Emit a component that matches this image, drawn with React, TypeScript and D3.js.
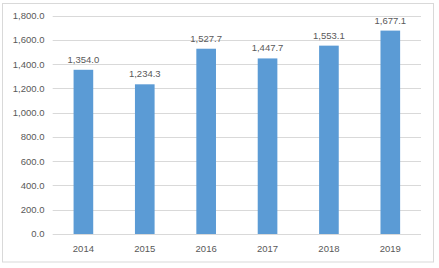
import React from "react";
import * as d3 from "d3";

const categories = ["2014", "2015", "2016", "2017", "2018", "2019"];
const values = [1354.0, 1234.3, 1527.7, 1447.7, 1553.1, 1677.1];
const yTicks = [0, 200, 400, 600, 800, 1000, 1200, 1400, 1600, 1800];

const W = 439;
const H = 268;
const plot = { left: 52.7, right: 421, top: 15.7, bottom: 234 };
const FONT = "'Liberation Sans', Arial, sans-serif";
const TEXT = "#595959";

export default function App() {
  const x = d3
    .scaleBand<string>()
    .domain(categories)
    .range([plot.left, plot.right])
    .paddingInner(0.68)
    .paddingOuter(0.34);
  const y = d3.scaleLinear().domain([0, 1800]).range([plot.bottom, plot.top]);
  const fmt = d3.format(",.1f");

  return (
    <svg
      width={W}
      height={H}
      style={{ position: "absolute", left: 0, top: 0, background: "#fff" }}
    >
      <rect x={2.5} y={3.5} width={431} height={258.5} fill="#fff" stroke="#D9D9D9" strokeWidth={1} />
      {yTicks.map((t) => (
        <g key={t}>
          <line
            x1={plot.left}
            x2={plot.right}
            y1={Math.round(y(t)) + 0.5}
            y2={Math.round(y(t)) + 0.5}
            stroke="#D9D9D9"
            strokeWidth={1}
          />
          <text
            x={44.5}
            y={y(t)}
            dy="0.35em"
            textAnchor="end"
            fontFamily={FONT}
            fontSize={9.5}
            fill={TEXT}
          >
            {fmt(t)}
          </text>
        </g>
      ))}
      {categories.map((c, i) => (
        <g key={c}>
          <rect
            x={x(c)!}
            y={y(values[i])}
            width={x.bandwidth()}
            height={y(0) - y(values[i])}
            fill="#5B9BD5"
          />
          <text
            x={x(c)! + x.bandwidth() / 2}
            y={y(values[i]) - 7}
            textAnchor="middle"
            fontFamily={FONT}
            fontSize={9.5}
            fill={TEXT}
          >
            {fmt(values[i])}
          </text>
          <text
            x={x(c)! + x.bandwidth() / 2}
            y={251.5}
            textAnchor="middle"
            fontFamily={FONT}
            fontSize={9.5}
            fill={TEXT}
          >
            {c}
          </text>
        </g>
      ))}
    </svg>
  );
}
